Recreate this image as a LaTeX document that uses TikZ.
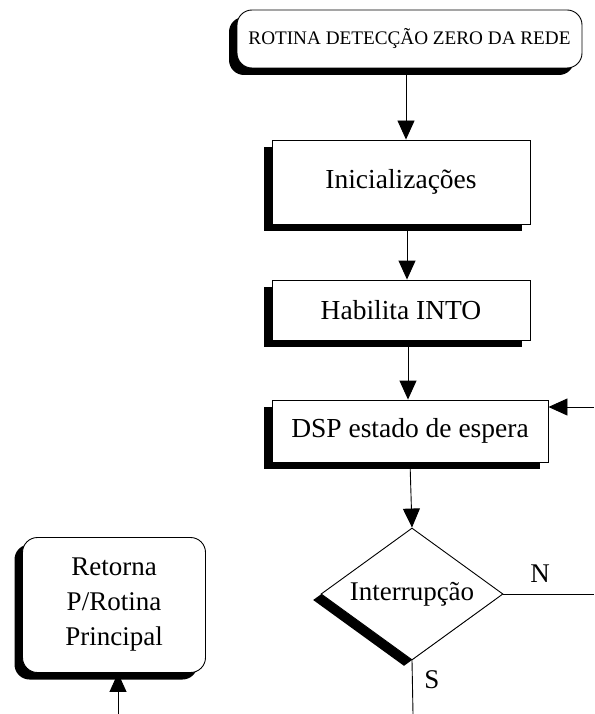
\documentclass[tikz,border=0pt]{standalone}
\usepackage{fontspec}
\setmainfont{Liberation Serif}
\usetikzlibrary{arrows.meta,shapes.geometric,shadows}
\begin{document}
\begin{tikzpicture}[x=1pt,y=-1pt,
  line width=0.9pt,
  shade/.style={drop shadow={shadow xshift=-8pt,shadow yshift=-7pt,fill=black,opacity=1}},
  procbox/.style={draw,fill=white,rectangle,shade,inner sep=0pt,
    font=\fontsize{27.5}{32}\selectfont},
  termbox/.style={draw,fill=white,rectangle,rounded corners=15pt,shade,inner sep=0pt},
  decbox/.style={draw,fill=white,diamond,aspect=1.4,inner sep=0pt,
    drop shadow={shadow xshift=-8pt,shadow yshift=-6pt,fill=black,opacity=1},
    font=\fontsize{27}{32}\selectfont},
  lbl/.style={font=\fontsize{27}{32}\selectfont},
  arr/.style={-{Triangle[length=19pt,width=17pt]}}]
\useasboundingbox (0,0) rectangle (594,714);

% process chain
\node[termbox,minimum width=345pt,minimum height=58pt,
  font=\fontsize{19.2}{22}\selectfont] (start) at (409.5,39) {ROTINA DETECÇÃO ZERO DA REDE};
\node[procbox,minimum width=258pt,minimum height=84pt] (init) at (401,182) {Inicializações};
\node[procbox,minimum width=258pt,minimum height=60pt] (hab) at (401,310) {Habilita INTO};
\node[procbox,minimum width=276pt,minimum height=62pt] (dsp) at (410,431) {DSP estado de espera};
\node[decbox,minimum width=182pt,minimum height=132pt] (dec) at (412,594) {Interrupção};

% return terminal
\node[termbox,minimum width=183pt,minimum height=135pt,align=center,
  font=\fontsize{27}{35}\selectfont] (ret) at (114,605) {Retorna\\P/Rotina\\Principal};

% free ends
\coordinate (loopin) at (594,407);
\coordinate (nout) at (594,594);
\coordinate (sout) at (413,714);
\coordinate (retin) at (118,714);
\coordinate (a1) at (406,0);
\coordinate (a2) at (407,0);
\coordinate (a3) at (408,0);
\coordinate (a4) at (410,0);

% connectors
\draw[arr] (a1 |- start.south) -- (a1 |- init.north);
\draw[arr] (a2 |- init.south) -- (a2 |- hab.north);
\draw[arr] (a3 |- hab.south) -- (a3 |- dsp.north);
\draw[arr] (a4 |- dsp.south) -- (dec.north);
\draw[arr] (loopin) -- (loopin -| dsp.east);
\draw (dec.east) -- (nout);
\draw (dec.south) -- (sout);
\draw[arr] (retin) -- (retin |- ret.south);

% branch labels
\node[lbl] (nlbl) at (540,574) {N};
\node[lbl] (slbl) at (432,680) {S};
\end{tikzpicture}
\end{document}
